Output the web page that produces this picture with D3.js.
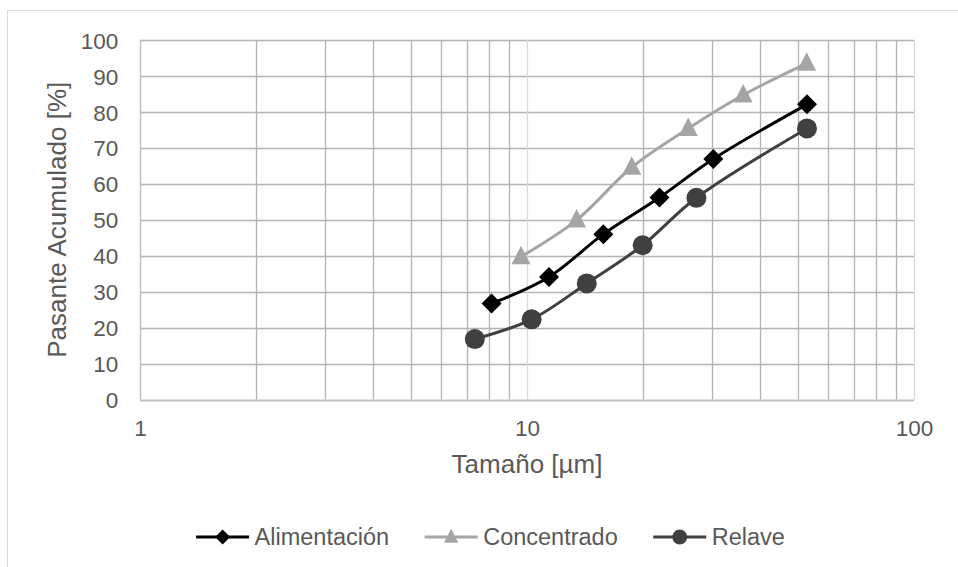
<!DOCTYPE html>
<html><head><meta charset="utf-8">
<script src="https://cdn.jsdelivr.net/npm/d3@7"></script>
<style>body{margin:0;background:#fff;}svg{display:block;font-family:"Liberation Sans",Arial,sans-serif;}</style>
</head><body><svg id="c" width="958" height="567"></svg>
<script>
const seriesNames = ["Alimentación", "Concentrado", "Relave"];
const alimentacionX = [8.1, 11.4, 15.75, 22.0, 30.3, 52.9];
const alimentacionY = [26.7, 34.1, 46.0, 56.2, 66.9, 82.1];
const concentradoX = [9.65, 13.43, 18.65, 26.1, 36.2, 52.8];
const concentradoY = [39.7, 49.9, 64.6, 75.4, 84.7, 93.5];
const relaveX = [7.33, 10.28, 14.27, 19.9, 27.4, 52.9];
const relaveY = [16.8, 22.3, 32.3, 42.9, 56.1, 75.4];
const yTicks = [0,10,20,30,40,50,60,70,80,90,100];
const xTicks = [1,10,100];
const xTitle = "Tamaño [µm]";
const yTitle = "Pasante Acumulado [%]";

const svg = d3.select("#c");
const L = 140, R = 914, T = 40, B = 399.5;
const x = d3.scaleLog().domain([1,100]).range([L,R]);
const y = d3.scaleLinear().domain([0,100]).range([B,T]);
const TXT = "#595959";
const tickFS = 22.5, titleFS = 26, legFS = 23.5;

// outer chart border (cropped)
svg.append("rect").attr("x",7.5).attr("y",10.5).attr("width",1000).attr("height",600)
  .attr("fill","none").attr("stroke","#d9d9d9").attr("stroke-width",1);

const minor = [];
for (let d=1; d<100; d*=10) for (let k=2;k<=9;k++) minor.push(d*k);
const g = svg.append("g");
g.selectAll(".hg").data(yTicks).join("line")
  .attr("x1",L).attr("x2",R).attr("y1",d=>Math.round(y(d))+0.5).attr("y2",d=>Math.round(y(d))+0.5)
  .attr("stroke","#b3b3b3").attr("stroke-width",1.3);
g.selectAll(".mg").data(minor).join("line")
  .attr("x1",d=>Math.round(x(d))+0.5).attr("x2",d=>Math.round(x(d))+0.5).attr("y1",T).attr("y2",B)
  .attr("stroke","#b3b3b3").attr("stroke-width",1.3);
g.selectAll(".Mg").data(xTicks).join("line")
  .attr("x1",d=>Math.round(x(d))+0.5).attr("x2",d=>Math.round(x(d))+0.5).attr("y1",T).attr("y2",B)
  .attr("stroke","#d9d9d9").attr("stroke-width",1.3);
g.append("line").attr("x1",L+0.5).attr("x2",L+0.5).attr("y1",T).attr("y2",B).attr("stroke","#bfbfbf").attr("stroke-width",1.3);
g.append("line").attr("x1",L).attr("x2",R).attr("y1",Math.round(B)+0.5).attr("y2",Math.round(B)+0.5).attr("stroke","#bfbfbf").attr("stroke-width",1.3);

const yAxis = d3.axisLeft(y).tickValues(yTicks).tickSize(0).tickPadding(0).tickFormat(d3.format("d"));
const ya = svg.append("g").attr("transform",`translate(${L-21.7},0)`).call(yAxis);
ya.select(".domain").remove();
ya.selectAll("text").attr("font-size",tickFS).attr("fill",TXT).attr("font-family","Liberation Sans, Arial, sans-serif").attr("dy","0.36em");
const xAxis = d3.axisBottom(x).tickValues(xTicks).tickSize(0).tickPadding(0).tickFormat(d3.format("d"));
const xa = svg.append("g").attr("transform",`translate(0,${B+21})`).call(xAxis);
xa.select(".domain").remove();
xa.selectAll("text").attr("font-size",tickFS).attr("fill",TXT).attr("font-family","Liberation Sans, Arial, sans-serif").attr("dy","0.71em");

svg.append("text").attr("x",(L+R)/2).attr("y",473.3).attr("text-anchor","middle")
  .attr("font-size",titleFS).attr("fill",TXT).text(xTitle);
svg.append("text").attr("transform",`translate(65.5,${(T+B)/2}) rotate(-90)`).attr("text-anchor","middle")
  .attr("font-size",titleFS).attr("fill",TXT).text(yTitle);

const series = [
  {name:seriesNames[0], xs:alimentacionX, ys:alimentacionY, color:"#000000", sym:"diamond"},
  {name:seriesNames[1], xs:concentradoX, ys:concentradoY, color:"#a5a5a5", sym:"triangle"},
  {name:seriesNames[2], xs:relaveX, ys:relaveY, color:"#404040", sym:"circle"}
];
function marker(sel, sym, color, cx, cy, s){
  if (sym==="diamond") sel.append("path").attr("d",`M${cx},${cy-10*s}L${cx+10*s},${cy}L${cx},${cy+10*s}L${cx-10*s},${cy}Z`).attr("fill",color);
  else if (sym==="triangle") sel.append("path").attr("d",`M${cx},${cy-11*s}L${cx+9.5*s},${cy+7.5*s}L${cx-9.5*s},${cy+7.5*s}Z`).attr("fill",color);
  else sel.append("circle").attr("cx",cx).attr("cy",cy).attr("r",10*s).attr("fill",color);
}
const line = d3.line().x(d=>x(d[0])).y(d=>y(d[1])).curve(d3.curveCatmullRom.alpha(0.5));
series.forEach(s=>{
  const pts = s.xs.map((v,i)=>[v,s.ys[i]]);
  svg.append("path").datum(pts).attr("d",line).attr("fill","none").attr("stroke",s.color).attr("stroke-width",3);
  const mg = svg.append("g");
  pts.forEach(p=>marker(mg,s.sym,s.color,x(p[0]),y(p[1]),1));
});

// legend
const legY = 537;
const lineLen = 53, gapT = 5.5, gapItem = 35.5;
const tmp = svg.append("text").attr("font-size",legFS);
const widths = series.map(s=>{tmp.text(s.name); return tmp.node().getComputedTextLength();});
tmp.remove();
const total = d3.sum(widths) + series.length*(lineLen+gapT) + (series.length-1)*gapItem;
let lx = 490.5 - total/2;
series.forEach((s,i)=>{
  const lg = svg.append("g");
  lg.append("line").attr("x1",lx).attr("x2",lx+lineLen).attr("y1",legY).attr("y2",legY).attr("stroke",s.color).attr("stroke-width",3);
  marker(lg, s.sym, s.color, lx+lineLen/2, legY, 0.75);
  lg.append("text").attr("x",lx+lineLen+gapT).attr("y",legY).attr("dy","0.36em").attr("font-size",legFS).attr("fill",TXT).text(s.name);
  lx += lineLen + gapT + widths[i] + gapItem;
});
</script></body></html>
